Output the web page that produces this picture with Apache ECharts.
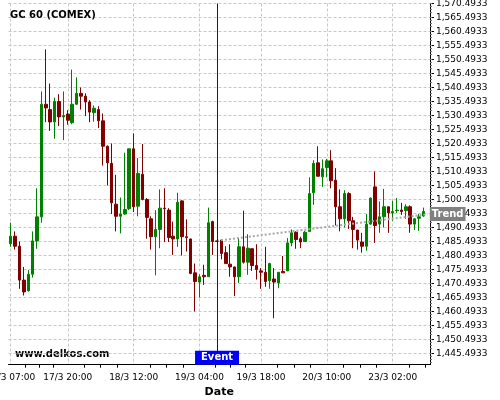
<!DOCTYPE html>
<html>
<head>
<meta charset="utf-8">
<script src="https://cdn.jsdelivr.net/npm/echarts@6/dist/echarts.min.js"></script>
<style>
  html, body { margin: 0; padding: 0; background: #fff; }
  #chart { width: 500px; height: 400px; }
</style>
</head>
<body>
<div id="chart"></div>
<script>
// trading sessions (day, first hour, last hour) -> hourly categories
const sessions = [['17/3', 7, 22], ['18/3', 0, 22], ['19/3', 0, 22], ['20/3', 0, 22], ['23/3', 0, 10]];
const xLabels = ['17/3 07:00', '17/3 20:00', '18/3 12:00', '19/3 04:00', '19/3 18:00', '20/3 10:00', '23/3 02:00'];

const opens = [1484.7, 1487.4, 1483.8, 1471.7, 1467.9, 1473.8, 1485.7, 1494.3, 1534.5, 1532.6,
  1528.2, 1535.5, 1530.0, 1531.0, 1527.9, 1534.5, 1538.4, 1537.4, 1535.3, 1531.5,
  1532.6, 1528.6, 1519.5, 1513.4, 1498.8, 1494.5, 1495.3, 1497.2, 1518.6, 1498.1,
  1509.5, 1500.5, 1493.6, 1487.2, 1489.8, 1497.4, 1496.7, 1487.4, 1486.4, 1500.0,
  1487.2, 1486.4, 1474.3, 1471.0, 1473.4, 1472.9, 1492.6, 1485.7, 1486.0, 1481.5,
  1477.4, 1476.4, 1472.9, 1483.6, 1478.1, 1482.9, 1476.9, 1475.0, 1474.5, 1471.5,
  1472.1, 1470.7, 1474.8, 1475.0, 1485.0, 1488.8, 1486.5, 1485.5, 1489.1, 1502.9,
  1513.6, 1508.6, 1511.9, 1514.3, 1507.4, 1497.9, 1493.6, 1502.6, 1492.9, 1489.6,
  1485.3, 1483.8, 1491.7, 1505.0, 1491.7, 1494.3, 1497.9, 1495.7, 1496.5, 1496.7,
  1496.5, 1497.9, 1491.7, 1493.8, 1494.6];
const closes = [1487.4, 1483.8, 1471.7, 1467.5, 1473.8, 1485.7, 1494.3, 1534.5, 1533.2, 1528.2,
  1535.5, 1530.0, 1530.5, 1528.8, 1534.5, 1538.4, 1537.4, 1535.3, 1531.7, 1533.1,
  1528.6, 1519.5, 1513.6, 1499.3, 1494.5, 1495.3, 1496.9, 1518.6, 1497.9, 1509.8,
  1500.5, 1494.1, 1487.2, 1489.8, 1497.4, 1497.2, 1486.9, 1486.4, 1499.5, 1487.2,
  1486.9, 1474.1, 1471.2, 1472.9, 1472.9, 1492.2, 1485.5, 1485.5, 1481.2, 1477.6,
  1476.4, 1472.9, 1483.6, 1478.1, 1483.1, 1476.9, 1475.5, 1474.5, 1471.2, 1477.6,
  1471.0, 1474.5, 1474.3, 1485.0, 1488.6, 1486.2, 1485.3, 1488.8, 1502.6, 1513.4,
  1508.8, 1511.5, 1514.3, 1507.2, 1497.9, 1493.6, 1502.6, 1492.9, 1489.8, 1486.0,
  1483.8, 1491.7, 1501.0, 1491.2, 1494.3, 1497.9, 1495.7, 1496.2, 1496.7, 1496.2,
  1497.9, 1491.7, 1493.6, 1494.3, 1496.2];
const lows = [1483.6, 1482.6, 1468.6, 1466.2, 1467.6, 1472.6, 1482.9, 1492.2, 1528.1, 1525.0,
  1522.2, 1526.7, 1521.7, 1527.2, 1527.4, 1534.3, 1532.6, 1530.3, 1528.1, 1528.3,
  1526.0, 1512.6, 1505.5, 1495.3, 1489.1, 1488.4, 1495.0, 1496.7, 1496.0, 1494.5,
  1500.2, 1486.5, 1482.6, 1473.4, 1483.1, 1485.3, 1485.3, 1480.7, 1483.6, 1480.5,
  1481.9, 1473.8, 1460.5, 1465.5, 1470.0, 1472.9, 1480.7, 1485.5, 1479.1, 1477.6,
  1472.9, 1466.0, 1470.7, 1477.6, 1473.6, 1475.0, 1471.9, 1468.6, 1469.3, 1468.6,
  1458.1, 1468.8, 1474.3, 1475.0, 1483.8, 1482.9, 1483.1, 1485.5, 1489.1, 1498.6,
  1508.8, 1505.0, 1508.4, 1504.5, 1491.2, 1489.1, 1490.5, 1490.0, 1483.1, 1482.6,
  1481.5, 1482.2, 1491.5, 1485.0, 1488.6, 1490.5, 1488.6, 1492.9, 1495.7, 1495.0,
  1493.6, 1488.6, 1489.6, 1489.3, 1494.3];
const highs = [1492.2, 1489.1, 1485.5, 1476.4, 1475.3, 1489.1, 1504.5, 1539.1, 1554.1, 1541.9,
  1536.9, 1538.1, 1539.1, 1532.4, 1546.9, 1544.1, 1540.5, 1538.4, 1536.0, 1534.1,
  1533.8, 1531.2, 1519.8, 1520.5, 1509.3, 1501.2, 1517.2, 1518.6, 1524.1, 1515.3,
  1520.3, 1501.0, 1494.5, 1496.7, 1504.1, 1504.5, 1497.4, 1492.6, 1502.9, 1500.2,
  1493.4, 1486.5, 1477.6, 1473.8, 1477.2, 1497.6, 1492.9, 1485.7, 1486.2, 1483.8,
  1484.5, 1476.5, 1486.7, 1496.5, 1488.1, 1483.0, 1484.5, 1476.0, 1483.6, 1477.9,
  1476.0, 1474.5, 1480.3, 1486.7, 1489.8, 1489.1, 1487.2, 1489.3, 1508.4, 1514.5,
  1519.5, 1514.8, 1515.0, 1518.1, 1511.7, 1504.1, 1503.8, 1503.1, 1494.3, 1489.6,
  1488.6, 1495.3, 1501.2, 1510.5, 1499.8, 1504.3, 1497.9, 1500.0, 1501.0, 1499.3,
  1498.8, 1498.4, 1493.8, 1495.3, 1497.6];

const yTicks = [1445.4933, 1450.4933, 1455.4933, 1460.4933, 1465.4933, 1470.4933, 1475.4933,
  1480.4933, 1485.4933, 1490.4933, 1495.4933, 1500.4933, 1505.4933, 1510.4933, 1515.4933,
  1520.4933, 1525.4933, 1530.4933, 1535.4933, 1540.4933, 1545.4933, 1550.4933, 1555.4933,
  1560.4933, 1565.4933, 1570.4933];

const eventTime = '19/3 08:00';
const trendStart = ['19/3 08:00', 1485.8];
const trendEnd = ['23/3 10:00', 1495.2];

// build the category list
const times = [];
sessions.forEach(function (s) {
  for (let h = s[1]; h <= s[2]; h++) {
    times.push(s[0] + ' ' + (h < 10 ? '0' : '') + h + ':00');
  }
});
const ohlc = opens.map(function (o, i) {
  return [o, closes[i], lows[i], highs[i]];
});

const majorIdx = xLabels.map(function (l) { return times.indexOf(l); });
const minorIdx = [];
for (let k = 0; k < majorIdx.length; k++) {
  const a = majorIdx[k];
  const gap = k < majorIdx.length - 1 ? majorIdx[k + 1] - a : 15;
  for (let j = 1; j < 4; j++) {
    const v = a + gap * j / 4;
    if (v < times.length - 0.5) minorIdx.push(v);
  }
}
const isLabel = function (idx) { return majorIdx.indexOf(idx) >= 0; };

const font = 'DejaVu Sans';
const gridLine = { color: '#c8c8c8', type: [3, 2], width: 1 };

let chart = echarts.init(document.getElementById('chart'));
chart.setOption({
  animation: false,
  backgroundColor: '#fff',
  textStyle: { fontFamily: font },
  title: {
    text: 'GC 60 (COMEX)',
    left: 10, top: 10, padding: 0,
    textStyle: { fontSize: 10, fontWeight: 'bold', color: '#000', fontFamily: font }
  },
  graphic: [{
    type: 'text', left: 15, top: 349,
    style: { text: 'www.delkos.com', font: 'bold 10px "DejaVu Sans"', fill: '#000' }
  }],
  grid: { left: 8.5, right: 70, top: 3.5, bottom: 35.3, containLabel: false, outerBoundsMode: 'none' },
  xAxis: [{
    type: 'category',
    data: times,
    boundaryGap: true,
    axisLine: { onZero: false, lineStyle: { color: '#000', width: 1 } },
    axisTick: { alignWithLabel: true, interval: isLabel, length: 5, lineStyle: { color: '#000' } },
    axisLabel: { interval: isLabel, fontSize: 9, color: '#000', margin: 8, fontFamily: font },
    splitLine: { show: false },
    name: 'Date', nameLocation: 'middle', nameGap: 20,
    nameTextStyle: { fontSize: 11, fontWeight: 'bold', color: '#000', fontFamily: font }
  }, {
    // minor ticks between the dated ticks
    type: 'value', position: 'bottom', min: -0.5, max: times.length - 0.5,
    axisLine: { show: false, onZero: false }, axisLabel: { show: false },
    axisTick: { show: true, customValues: minorIdx, length: 3, lineStyle: { color: '#000' } },
    splitLine: { show: false }
  }, {
    // vertical grid lines through the labelled candles
    type: 'value', position: 'bottom', min: -0.5, max: times.length - 0.5,
    axisLine: { show: false, onZero: false }, axisLabel: { show: false },
    axisTick: { show: false, customValues: majorIdx },
    splitLine: { show: true, lineStyle: gridLine }
  }],
  yAxis: {
    type: 'value', position: 'right',
    min: 1441.4933, max: 1570.4933, interval: 5,
    axisLine: { show: true, onZero: false, lineStyle: { color: '#000', width: 1 } },
    axisTick: { show: true, customValues: yTicks, length: 4, lineStyle: { color: '#000' } },
    minorTick: { show: true, splitNumber: 5, length: 2, lineStyle: { color: '#777' } },
    axisLabel: {
      customValues: yTicks, fontSize: 9, color: '#000', margin: 6, fontFamily: font,
      formatter: function (v) {
        return v.toLocaleString('en-US', { minimumFractionDigits: 4, maximumFractionDigits: 4 });
      }
    },
    splitLine: { show: true, lineStyle: gridLine }
  },
  series: [{
    type: 'candlestick',
    name: 'GC 60',
    xAxisIndex: 0,
    data: ohlc,
    barWidth: 3,
    itemStyle: {
      color: '#008000', color0: '#800000',
      borderColor: '#008000', borderColor0: '#800000', borderWidth: 1
    },
    markLine: {
      silent: true,
      symbol: ['none', 'none'],
      lineStyle: { color: '#a8a8a8', width: 2, type: [2, 2] },
      label: {
        show: true, position: 'end', formatter: 'Trend', distance: 2,
        color: '#fff', backgroundColor: '#808080', fontWeight: 'bold', fontSize: 10,
        padding: [2, 2], fontFamily: font
      },
      data: [
        [{ coord: trendStart, name: 'Trend' }, { coord: trendEnd }]
      ]
    }
  }, {
    // event marker lives on its own empty series
    type: 'line',
    name: 'Event',
    xAxisIndex: 0,
    data: [],
    markLine: {
      silent: true,
      symbol: ['none', 'none'],
      lineStyle: { color: '#0000ff', width: 1, type: 'solid' },
      label: {
        show: true, position: 'start', formatter: 'Event', distance: -14,
        color: '#fff', backgroundColor: '#0000ff', fontWeight: 'bold', fontSize: 10,
        padding: [2, 6], fontFamily: font
      },
      data: [{ xAxis: eventTime }]
    }
  }]
});
</script>
</body>
</html>
